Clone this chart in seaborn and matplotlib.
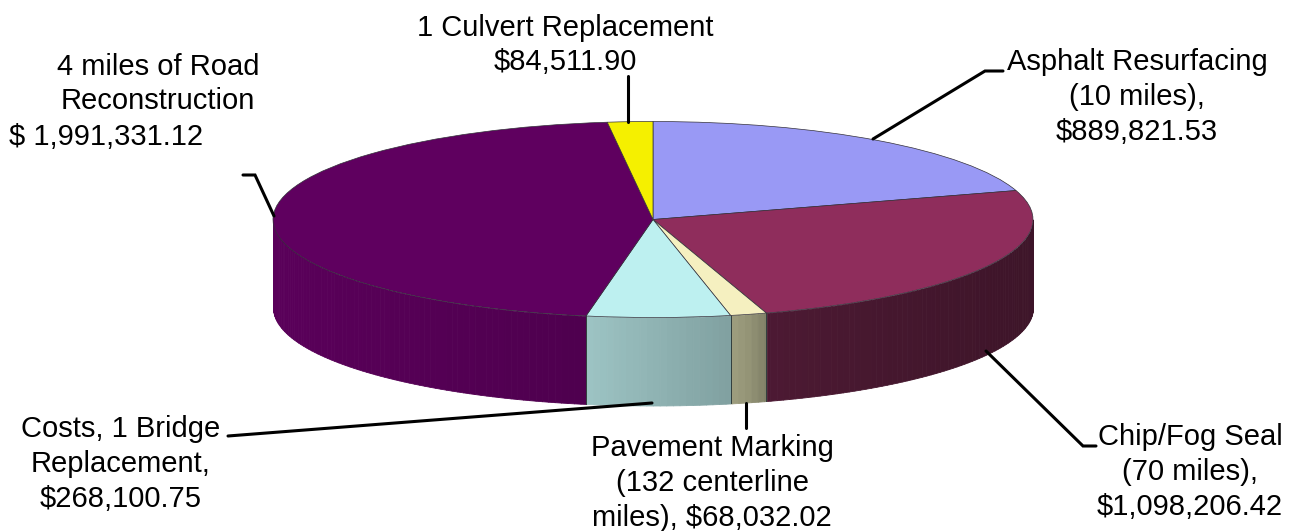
import numpy as np
import pandas as pd
import matplotlib
matplotlib.use("Agg")
import matplotlib.pyplot as plt
import seaborn as sns

# datos del grafico
proyectos = ["Asphalt Resurfacing", "Chip/Fog Seal", "Pavement Marking",
             "Costs, 1 Bridge", "Road Reconstruction", "Culvert Replacement"]
costos = [889821.53, 1098206.42, 68032.02, 268100.75, 1991331.12, 84511.90]
colores = ["#9999f5", "#8f2d5c", "#f5f0c0", "#bdf0f0", "#5f005f", "#f5f000"]
colores_lado = ["#9999ff", "#993366", "#ffffcc", "#ccffff", "#660066", "#ffff00"]

etiquetas = ["1 Culvert Replacement\n$84,511.90",
             "4 miles of Road\nReconstruction",
             "$ 1,991,331.12",
             "Asphalt Resurfacing\n(10 miles),\n$889,821.53",
             "Chip/Fog Seal\n(70 miles),\n$1,098,206.42",
             "Costs, 1 Bridge\nReplacement,\n$268,100.75",
             "Pavement Marking\n(132 centerline\nmiles), $68,032.02"]
pos_etiquetas = [(565, 45), (158, 84), (106, 137), (1137, 97),
                 (1190, 472), (121, 464), (712, 483)]

lineas_guia = [[(628, 76), (628, 122)],
               [(873, 139), (985, 71), (1003, 71)],
               [(243, 175), (255, 175), (274, 216)],
               [(986, 351), (1083, 446), (1096, 446)],
               [(228, 436), (652, 403)],
               [(746, 403), (746, 428)]]

df = pd.DataFrame({"proyecto": proyectos, "costo": costos})

ANCHO, ALTO = 1290, 531
CX, CY = 653, 219.5
RX, RY = 380, 98
PROF = 88 / RY

sns.set_theme(style="white")
plt.rcParams["font.family"] = ["Liberation Sans", "DejaVu Sans"]
paleta = sns.color_palette(colores)
paleta_lado = sns.color_palette(colores_lado)


def sombra(x):
    # el lado se oscurece de izquierda a derecha
    return np.interp(x, [-1, -0.18, 0.2, 0.25, 0.3, 1], [0.88, 0.77, 0.63, 0.58, 0.5, 0.4])


fig = plt.figure(figsize=(ANCHO / 100, ALTO / 100), dpi=100)
ax = fig.add_axes([0, 0, 1, 1])
wedges, _ = ax.pie(df["costo"], colors=paleta, startangle=90, counterclock=False,
                   radius=1, wedgeprops={"edgecolor": "#33303a", "linewidth": 0.5, "zorder": 3})
ax.set_aspect("auto")
ax.set_xlim(-CX / RX, (ANCHO - CX) / RX)
ax.set_ylim((CY - ALTO) / RY, CY / RY)

# lado del cilindro, por tiras de un grado
for w, base in zip(wedges, paleta_lado):
    grados = np.arange(np.floor(w.theta1), np.ceil(w.theta2) + 1)
    grados = np.clip(grados, w.theta1, w.theta2)
    for a, b in zip(grados[:-1], grados[1:]):
        t = np.radians([a, b])
        if np.sin(t).mean() > 0:
            continue
        x = np.cos(t)
        y = np.sin(t)
        c = tuple(np.array(base) * sombra(x.mean()))
        ax.fill_between(x, y, y - PROF, color=c, linewidth=0.6, antialiased=False, zorder=1)
    for th in (w.theta1, w.theta2):
        t = np.radians(th)
        if np.sin(t) < -0.05:
            ax.plot([np.cos(t)] * 2, [np.sin(t), np.sin(t) - PROF],
                    color="#33403f", linewidth=0.7, zorder=2)

# capa en pixeles para textos y lineas guia
capa = fig.add_axes([0, 0, 1, 1], facecolor="none")
capa.set_xlim(0, ANCHO)
capa.set_ylim(ALTO, 0)
capa.axis("off")
for puntos in lineas_guia:
    xs, ys = zip(*puntos)
    capa.plot(xs, ys, color="black", linewidth=2.2, solid_joinstyle="miter")
for texto, (x, y) in zip(etiquetas, pos_etiquetas):
    capa.text(x, y, texto, ha="center", va="center", fontsize=21,
              color="black", linespacing=1.3)

fig.savefig("out.png", dpi=100)
